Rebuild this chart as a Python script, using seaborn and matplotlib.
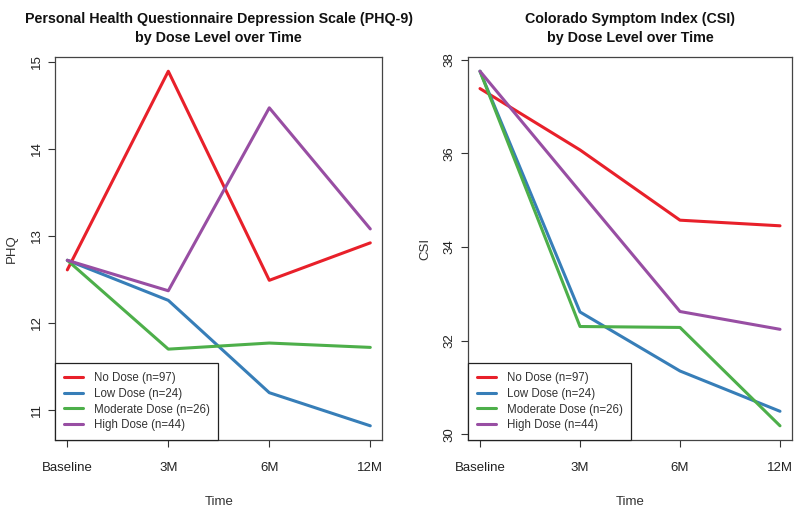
import pandas as pd
import seaborn as sns
import matplotlib.pyplot as plt

time_labels = ["Baseline", "3M", "6M", "12M"]
dose_labels = ["No Dose (n=97)", "Low Dose (n=24)", "Moderate Dose (n=26)", "High Dose (n=44)"]

# PHQ-9 means by dose level
phq_no = [12.61, 14.89, 12.49, 12.92]
phq_low = [12.72, 12.26, 11.20, 10.82]
phq_mod = [12.72, 11.70, 11.77, 11.72]
phq_high = [12.72, 12.37, 14.47, 13.08]

# CSI means by dose level
csi_no = [37.38, 36.07, 34.57, 34.45]
csi_low = [37.75, 32.61, 31.35, 30.49]
csi_mod = [37.75, 32.30, 32.28, 30.18]
csi_high = [37.75, 35.18, 32.62, 32.24]

colors = ["#E8202A", "#377EB8", "#4DAF4A", "#984EA3"]


def make_long(series):
    rows = []
    for dose, vals in zip(dose_labels, series):
        for i, v in enumerate(vals):
            rows.append({"t": i + 1, "value": v, "dose": dose})
    return pd.DataFrame(rows)


phq_df = make_long([phq_no, phq_low, phq_mod, phq_high])
csi_df = make_long([csi_no, csi_low, csi_mod, csi_high])

sns.set_style("ticks")
plt.rcParams["font.family"] = ["Liberation Sans", "DejaVu Sans"]

fig = plt.figure(figsize=(8, 5.14), dpi=100)
ax1 = fig.add_axes([0.069, 0.144, 0.409, 0.745])
ax2 = fig.add_axes([0.585, 0.144, 0.405, 0.745])

panels = [
    (ax1, phq_df, "PHQ", "Personal Health Questionnaire Depression Scale (PHQ-9)\nby Dose Level over Time", [11, 12, 13, 14, 15]),
    (ax2, csi_df, "CSI", "Colorado Symptom Index (CSI)\nby Dose Level over Time", [30, 32, 34, 36, 38]),
]

for ax, df, ylab, title, yticks in panels:
    sns.lineplot(data=df, x="t", y="value", hue="dose", hue_order=dose_labels,
                 palette=colors, linewidth=2.2, ax=ax, legend=True)
    ax.margins(0.04)
    ax.set_xticks([1, 2, 3, 4])
    ax.set_xticklabels(time_labels)
    ax.set_yticks(yticks)
    ax.set_yticklabels([str(v) for v in yticks], rotation=90, va="center")
    ax.set_xlabel("Time", fontsize=9.5, labelpad=16, color="#333333")
    ax.set_ylabel(ylab, fontsize=9.5, labelpad=9, color="#333333")
    ax.set_title(title, fontsize=10.3, fontweight="bold", pad=11, linespacing=1.45,
                 color="#111111")
    ax.tick_params(axis="both", labelsize=9.5, length=5, width=0.8, color="#333333",
                   labelcolor="#222222")
    ax.tick_params(axis="x", pad=11)
    ax.tick_params(axis="y", pad=4)
    for s in ax.spines.values():
        s.set_visible(True)
        s.set_color("#444444")
        s.set_linewidth(0.9)
    leg = ax.legend(loc="lower left", borderaxespad=0, fontsize=8.3, fancybox=False,
                    framealpha=1, edgecolor="#222222", handlelength=1.7,
                    labelspacing=0.33, borderpad=0.75, handletextpad=0.9)
    leg.get_frame().set_linewidth(0.9)
    for txt in leg.get_texts():
        txt.set_color("#333333")

fig.savefig("out.png", dpi=100)
